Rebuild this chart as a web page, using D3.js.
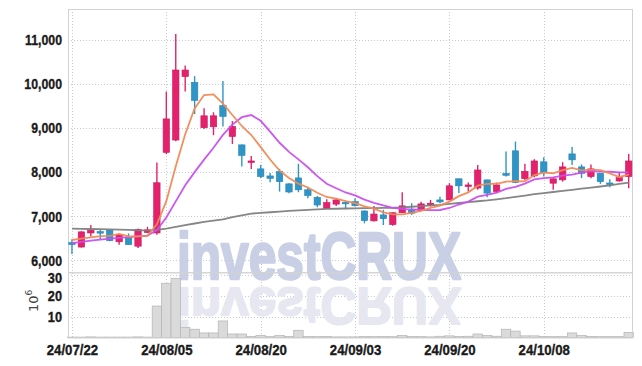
<!DOCTYPE html>
<html>
<head>
<meta charset="utf-8">
<script src="https://cdn.jsdelivr.net/npm/d3@7"></script>
<style>
  body { margin: 0; background: #fff; }
  svg { display: block; }
</style>
</head>
<body>
<svg width="642" height="366"></svg>
<script>
// trading days (yy/mm/dd)
const dates = [
  '24/07/22', '24/07/23', '24/07/24', '24/07/25', '24/07/26', '24/07/29', '24/07/30', '24/07/31', '24/08/01', '24/08/02',
  '24/08/05', '24/08/06', '24/08/07', '24/08/08', '24/08/09', '24/08/12', '24/08/13', '24/08/14', '24/08/16', '24/08/19',
  '24/08/20', '24/08/21', '24/08/22', '24/08/23', '24/08/26', '24/08/27', '24/08/28', '24/08/29', '24/08/30', '24/09/02',
  '24/09/03', '24/09/04', '24/09/05', '24/09/06', '24/09/09', '24/09/10', '24/09/11', '24/09/12', '24/09/13', '24/09/19',
  '24/09/20', '24/09/23', '24/09/24', '24/09/25', '24/09/26', '24/09/27', '24/09/30', '24/10/02', '24/10/04', '24/10/07',
  '24/10/08', '24/10/10', '24/10/11', '24/10/14', '24/10/15', '24/10/16', '24/10/17', '24/10/18', '24/10/21', '24/10/22'
];

const opens = [
  6400, 6300, 6620, 6650, 6680, 6420, 6520, 6320, 6630, 6620,
  8450, 8730, 10170, 10040, 9010, 9030, 9510, 8810, 8620, 8230,
  8075, 7915, 8015, 7735, 7870, 7600, 7430, 7175, 7275, 7315,
  7330, 7120, 6895, 7030, 6810, 7080, 7160, 7130, 7250, 7370,
  7370, 7850, 7675, 7640, 7825, 7560, 7970, 8485, 7855, 7915,
  8235, 7750, 7825, 8415, 8120, 7900, 7975, 7755, 7800, 7900
];
const highs = [
  6477, 6660, 6800, 6690, 6700, 6600, 6610, 6720, 6760, 8220,
  9830, 11140, 10420, 10180, 9450, 9360, 10070, 9160, 8630, 8370,
  8165, 7980, 8075, 7750, 8190, 7650, 7460, 7385, 7410, 7355,
  7410, 7130, 7235, 7145, 7085, 7545, 7295, 7330, 7370, 7445,
  7750, 7850, 7765, 8165, 7830, 7765, 8470, 8695, 8190, 8295,
  8340, 7855, 8227, 8570, 8175, 8175, 7980, 7840, 7990, 8415
];
const lows = [
  6143, 6290, 6540, 6480, 6430, 6350, 6350, 6280, 6620, 6580,
  8410, 8700, 9830, 9320, 8980, 8840, 9040, 8640, 8130, 8070,
  7865, 7770, 7560, 7520, 7545, 7410, 7205, 7170, 7235, 7160,
  7220, 6840, 6880, 6800, 6785, 7075, 7030, 7120, 7220, 7295,
  7365, 7525, 7560, 7600, 7430, 7525, 7900, 7750, 7825, 7885,
  7900, 7600, 7786, 8165, 7865, 7865, 7735, 7660, 7785, 7635
];
const closes = [
  6355, 6645, 6680, 6640, 6445, 6580, 6355, 6700, 6690, 7760,
  9210, 10320, 10320, 9630, 9280, 9280, 9265, 9040, 8380, 8255,
  7900, 7860, 7785, 7550, 7600, 7470, 7255, 7310, 7370, 7300,
  7240, 6900, 7050, 6945, 7080, 7235, 7070, 7280, 7295, 7325,
  7690, 7690, 7710, 8050, 7525, 7710, 7930, 7765, 8020, 8255,
  7990, 7850, 8120, 8280, 7975, 8075, 7785, 7745, 7875, 8255
];

// volume, millions of shares
const volumes = [
  0.2, 0.2, 0.3, 0.2, 0.2, 0.2, 0.2, 0.3, 0.2, 15.2,
  26.2, 28.6, 4.9, 4.0, 2.2, 2.2, 8.0, 1.7, 1.7, 0.5,
  1.0, 0.4, 1.0, 0.5, 3.5, 0.5, 0.4, 0.5, 0.3, 0.3,
  0.3, 0.5, 0.4, 0.5, 0.4, 1.0, 0.5, 0.4, 0.3, 0.6,
  0.8, 0.5, 0.6, 1.7, 1.0, 0.6, 4.0, 3.1, 0.8, 0.8,
  0.5, 0.4, 0.4, 2.2, 1.0, 0.5, 0.4, 0.4, 0.4, 2.5
];

// moving averages as drawn
const ma5 = [
  6460, 6490, 6520, 6550, 6553, 6598, 6540, 6544, 6554, 6817,
  7343, 8136, 8860, 9448, 9752, 9766, 9555, 9299, 9049, 8844,
  8568, 8287, 8036, 7870, 7739, 7653, 7532, 7437, 7401, 7341,
  7295, 7224, 7172, 7087, 7043, 7042, 7076, 7122, 7192, 7241,
  7332, 7456, 7542, 7693, 7733, 7737, 7785, 7796, 7790, 7936,
  7992, 7976, 8047, 8099, 8043, 8060, 8047, 7972, 7891, 7947
];
const ma10 = [
  6390, 6420, 6445, 6470, 6490, 6510, 6525, 6545, 6560, 6685,
  6971, 7338, 7702, 8001, 8285, 8555, 8846, 9080, 9249, 9298,
  9167, 8921, 8668, 8460, 8292, 8111, 7910, 7737, 7636, 7540,
  7474, 7378, 7305, 7244, 7192, 7169, 7150, 7147, 7140, 7142,
  7187, 7266, 7332, 7443, 7487, 7535, 7621, 7669, 7742, 7835,
  7865, 7881, 7922, 7945, 7990, 8026, 8012, 8010, 7995, 7995
];
const ma60 = [
  6720, 6715, 6710, 6705, 6700, 6695, 6690, 6682, 6680, 6690,
  6720, 6760, 6800, 6835, 6870, 6900, 6930, 6980, 7020, 7060,
  7075, 7090, 7105, 7120, 7135, 7145, 7155, 7165, 7170, 7175,
  7180, 7183, 7186, 7189, 7192, 7200, 7215, 7230, 7245, 7260,
  7280, 7300, 7320, 7340, 7360, 7385, 7410, 7440, 7470, 7500,
  7525, 7550, 7575, 7600, 7625, 7650, 7675, 7700, 7735, 7765
];

const priceTicks = [6000, 7000, 8000, 9000, 10000, 11000];
const volTicks = [10, 20, 30];
const dateTicks = [0, 10, 20, 30, 40, 50];

const svg = d3.select('svg');
const plotLeft = 68, plotRight = 632, plotTop = 9, priceBottom = 272.3, volBottom = 337.5;
const font = "'Liberation Sans', Arial, sans-serif";

const x = d3.scaleLinear().domain([-0.42, dates.length - 1 + 0.35]).range([plotLeft, plotRight]);
const y = d3.scaleLinear().domain([5727, 11705]).range([priceBottom, plotTop]);
const yv = d3.scaleLinear().domain([0, 31.5]).range([volBottom, priceBottom]);
const step = x(1) - x(0);

// grid
const grid = svg.append('g')
  .attr('stroke', '#c4c8dc')
  .attr('stroke-width', 1)
  .attr('stroke-dasharray', '1,2');

grid.selectAll('.hp').data(priceTicks).join('line')
  .attr('x1', plotLeft).attr('x2', plotRight)
  .attr('y1', (d) => Math.round(y(d)) + 0.5).attr('y2', (d) => Math.round(y(d)) + 0.5);

grid.selectAll('.hv').data(volTicks).join('line')
  .attr('x1', plotLeft).attr('x2', plotRight)
  .attr('y1', (d) => Math.round(yv(d)) + 0.5).attr('y2', (d) => Math.round(yv(d)) + 0.5);

grid.selectAll('.vx').data(dateTicks).join('line')
  .attr('x1', (d) => Math.round(x(d)) + 0.5).attr('x2', (d) => Math.round(x(d)) + 0.5)
  .attr('y1', plotTop).attr('y2', volBottom);

// watermark + reflection
const wm = svg.append('g')
  .attr('font-family', font).attr('font-weight', 'bold').attr('font-size', 66)
  .attr('stroke-width', 2.4).attr('stroke-linejoin', 'round');
wm.append('text')
  .text('investCRUX')
  .attr('x', 177).attr('y', 279)
  .attr('textLength', 284).attr('lengthAdjust', 'spacingAndGlyphs')
  .attr('fill', '#c9d0e6').attr('stroke', '#c9d0e6');
wm.append('text')
  .text('investCRUX')
  .attr('x', 177).attr('y', 279)
  .attr('transform', 'translate(0,285) scale(1,-0.78) translate(0,-283)')
  .attr('textLength', 284).attr('lengthAdjust', 'spacingAndGlyphs')
  .attr('fill', '#e6e7f0').attr('stroke', '#e6e7f0');

// volume bars
svg.append('g').selectAll('rect').data(volumes).join('rect')
  .attr('x', (d, i) => x(i) - step / 2)
  .attr('width', step)
  .attr('y', (d) => yv(d))
  .attr('height', (d) => volBottom - yv(d))
  .attr('fill', '#dadada')
  .attr('stroke', '#b4b4b4')
  .attr('stroke-width', 0.7);

// panel borders
svg.append('rect')
  .attr('x', plotLeft + 0.5).attr('y', plotTop + 0.5)
  .attr('width', plotRight - plotLeft).attr('height', priceBottom - plotTop)
  .attr('fill', 'none').attr('stroke', '#d2d2d2');
svg.append('rect')
  .attr('x', plotLeft + 0.5).attr('y', priceBottom + 0.5)
  .attr('width', plotRight - plotLeft).attr('height', volBottom - priceBottom)
  .attr('fill', 'none').attr('stroke', '#d2d2d2');

// candles
const upFill = '#e5206c', upStroke = '#c91a5d';
const downFill = '#2f95c7', downStroke = '#2784b4';
const candles = svg.append('g').selectAll('g').data(dates).join('g');

candles.append('line')
  .attr('x1', (d, i) => x(i)).attr('x2', (d, i) => x(i))
  .attr('y1', (d, i) => y(highs[i])).attr('y2', (d, i) => y(lows[i]))
  .attr('stroke', (d, i) => closes[i] >= opens[i] ? upFill : downFill)
  .attr('stroke-width', 1.4);

candles.append('rect')
  .attr('x', (d, i) => x(i) - 3.2)
  .attr('width', 6.4)
  .attr('y', (d, i) => y(Math.max(opens[i], closes[i])))
  .attr('height', (d, i) => Math.max(1.5, Math.abs(y(opens[i]) - y(closes[i]))))
  .attr('fill', (d, i) => closes[i] >= opens[i] ? upFill : downFill)
  .attr('stroke', (d, i) => closes[i] >= opens[i] ? upStroke : downStroke)
  .attr('stroke-width', 0.6);

// moving averages
const line = d3.line().x((d, i) => x(i)).y((d) => y(d));
[[ma60, '#7f7f7f'], [ma10, '#c94ff0'], [ma5, '#f08a55']].forEach(([s, c]) => {
  svg.append('path').datum(s)
    .attr('d', line)
    .attr('fill', 'none')
    .attr('stroke', c)
    .attr('stroke-width', 1.8)
    .attr('stroke-opacity', 0.95);
});

// axes (glyphs squeezed to match the condensed face of the original)
const styleAxis = (squeeze) => (g) => {
  g.select('.domain').remove();
  g.attr('font-family', font).attr('font-size', 15).attr('font-weight', 'bold');
  g.selectAll('text')
    .attr('fill', '#1a1a1a')
    .attr('stroke', '#1a1a1a')
    .attr('stroke-width', 0.35)
    .each(function () {
      const w = this.getComputedTextLength();
      d3.select(this).attr('textLength', w * squeeze).attr('lengthAdjust', 'spacingAndGlyphs');
    });
};

svg.append('g')
  .attr('transform', `translate(${plotLeft},0)`)
  .call(d3.axisLeft(y).tickValues(priceTicks).tickFormat(d3.format(',')).tickSize(0).tickPadding(6))
  .call(styleAxis(0.82));

svg.append('g')
  .attr('transform', `translate(${plotLeft},0)`)
  .call(d3.axisLeft(yv).tickValues(volTicks).tickSize(0).tickPadding(6))
  .call(styleAxis(0.85))
  .call((g) => g.selectAll('text').filter((d) => d === 30).attr('dy', '0.5em'));

svg.append('g')
  .attr('transform', `translate(0,${volBottom})`)
  .call(d3.axisBottom(x).tickValues(dateTicks).tickFormat((i) => dates[i]).tickSize(0).tickPadding(7))
  .call(styleAxis(0.88));

// volume unit label 10^6
const unit = svg.append('text')
  .attr('transform', 'translate(38,312) rotate(-90)')
  .attr('font-family', "'DejaVu Sans', sans-serif")
  .attr('font-size', 13)
  .attr('fill', '#444');
unit.append('tspan').text('10');
unit.append('tspan').text('6').attr('dy', -6).attr('font-size', 9);
</script>
</body>
</html>
